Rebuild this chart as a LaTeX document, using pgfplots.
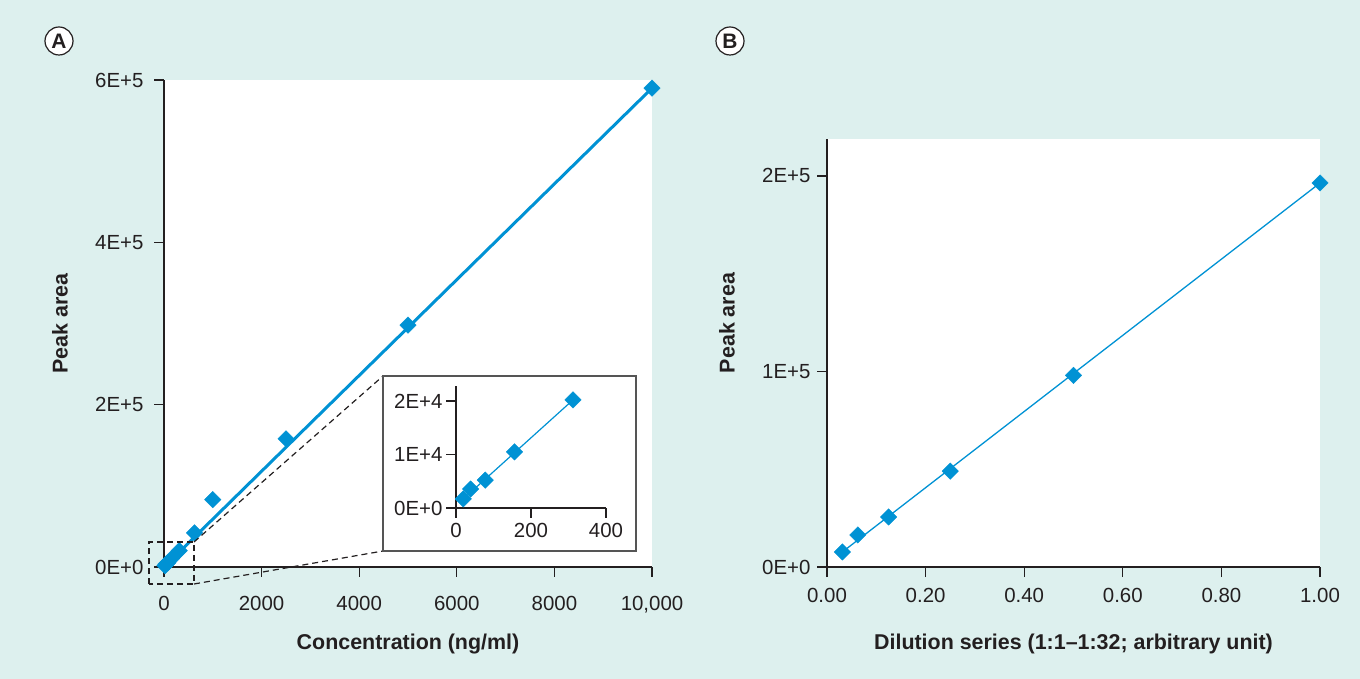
\documentclass[border=0pt]{standalone}
\usepackage{fontspec}
\setmainfont{Liberation Sans}
\usepackage{pgfplots}
\pgfplotsset{compat=1.18}
\definecolor{bgTeal}{HTML}{DDF0EE}
\definecolor{ptBlue}{HTML}{0092D4}
\definecolor{inkGray}{HTML}{231F20}
\definecolor{boxGray}{HTML}{555555}

\pgfplotsset{
  panel/.style={
    scale only axis,
    axis x line=bottom, axis y line=left,
    axis line style={-, draw=inkGray, line width=1.2bp},
    axis background/.style={fill=white},
    tick align=outside,
    major tick length=10bp,
    tick style={draw=inkGray, line width=1.2bp},
    ticklabel style={font=\fontsize{20.5}{23}\selectfont, text=inkGray},
    label style={font=\fontsize{21.5}{24}\selectfont\bfseries, text=inkGray},
    scaled ticks=false,
    clip=false,
  },
  pts/.style={only marks, mark=square*, mark size=5.8bp,
    mark options={rotate=45, fill=ptBlue, draw=ptBlue}},
}

\begin{document}
\begin{tikzpicture}
\fill[bgTeal] (0,0) rectangle (1360bp,679bp);

% panel A
\begin{axis}[panel,
  at={(164bp,112bp)}, anchor=south west,
  width=488bp, height=487bp,
  xmin=0, xmax=10000, ymin=0, ymax=600000,
  xtick={0,2000,4000,6000,8000,10000},
  xticklabels={0,2000,4000,6000,8000,{10,000}},
  ytick={0,200000,400000,600000},
  yticklabels={0E+0,2E+5,4E+5,6E+5},
  xticklabel style={yshift=-16bp},
  yticklabel style={xshift=-7bp},
  xlabel={Concentration (ng/ml)},
  ylabel={Peak area},
  xlabel style={at={(axis description cs:0.5,-0.158)}, anchor=center},
  ylabel style={at={(axis description cs:-0.213,0.5)}, anchor=center},
]
\addplot[ptBlue, line width=3bp] coordinates {(0,0) (10000,590000)};
\addplot[pts] coordinates {
  (19.5,1700) (39,3550) (78,5200) (156,10500) (312,20200)
  (625,42000) (1000,83000) (2500,158000) (5000,298000) (10000,590000)};
\end{axis}

% zoom marks
\draw[inkGray, line width=1.2bp, dash pattern=on 6bp off 4bp]
  (149bp,95bp) rectangle (194bp,137bp);
\draw[inkGray, line width=1.2bp, dash pattern=on 6bp off 4bp]
  (194bp,137bp) -- (383bp,303bp);
\draw[inkGray, line width=1.2bp, dash pattern=on 6bp off 4bp]
  (194bp,95bp) -- (383bp,128bp);
\draw[boxGray, fill=white, line width=1.2bp] (383bp,128bp) rectangle (636bp,303bp);

% inset
\begin{axis}[panel,
  at={(456bp,171bp)}, anchor=south west,
  width=150bp, height=122bp,
  axis background/.style={},
  xmin=0, xmax=400, ymin=0, ymax=22800,
  xtick={0,200,400}, xticklabels={0,200,400},
  ytick={0,10000,20000}, yticklabels={0E+0,1E+4,2E+4},
  xticklabel style={yshift=-2bp},
]
\addplot[ptBlue, line width=1.2bp] coordinates {(19.5,1700) (312,20200)};
\addplot[pts] coordinates {(19.5,1700) (39,3550) (78,5200) (156,10500) (312,20200)};
\end{axis}

% panel B
\begin{axis}[panel,
  at={(827bp,112bp)}, anchor=south west,
  width=493bp, height=428bp,
  xmin=0, xmax=1, ymin=0, ymax=218900,
  xtick={0,0.2,0.4,0.6,0.8,1},
  xticklabels={0.00,0.20,0.40,0.60,0.80,1.00},
  ytick={0,100000,200000},
  yticklabels={0E+0,1E+5,2E+5},
  xticklabel style={yshift=-8bp},
  yticklabel style={xshift=-3bp},
  xlabel={Dilution series (1:1--1:32; arbitrary unit)},
  ylabel={Peak area},
  xlabel style={at={(axis description cs:0.5,-0.18)}, anchor=center},
  ylabel style={at={(axis description cs:-0.203,0.570)}, anchor=center},
]
\addplot[ptBlue, line width=1.3bp] coordinates {(0.03125,7700) (1,196400)};
\addplot[pts] coordinates {
  (0.03125,7700) (0.0625,16400) (0.125,25600) (0.25,49000) (0.5,98000) (1,196400)};
\end{axis}

\node[circle, draw=inkGray, fill=white, line width=1.2bp, minimum size=28bp,
  inner sep=0pt, font=\fontsize{21}{23}\selectfont\bfseries, text=inkGray]
  at (59bp,638bp) {A};
\node[circle, draw=inkGray, fill=white, line width=1.2bp, minimum size=28bp,
  inner sep=0pt, font=\fontsize{21}{23}\selectfont\bfseries, text=inkGray]
  at (730bp,638bp) {B};
\end{tikzpicture}
\end{document}
